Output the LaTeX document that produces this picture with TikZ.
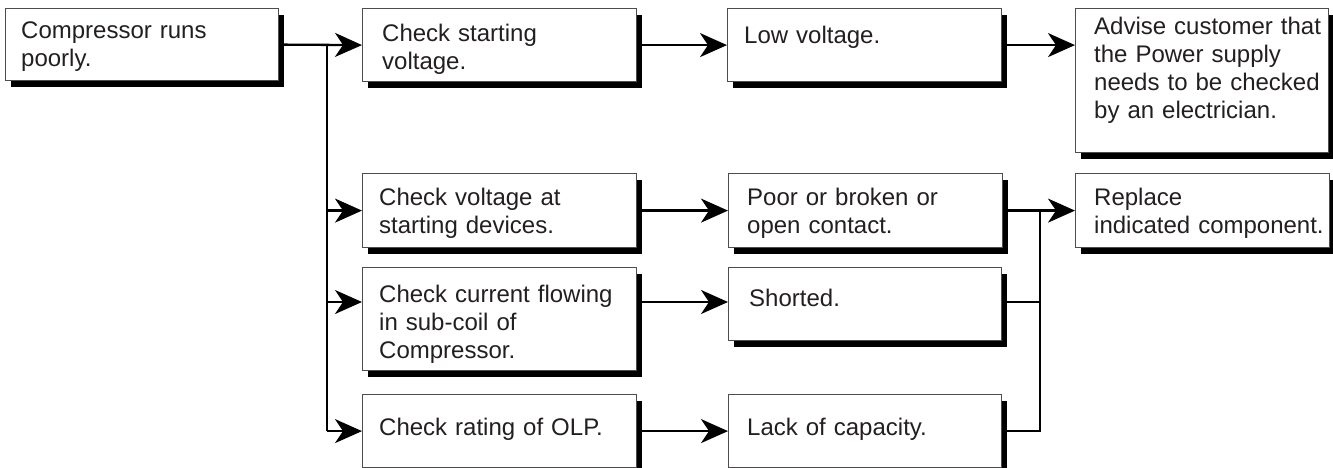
\documentclass[tikz,border=0pt]{standalone}
\usepackage{fontspec}
\setmainfont{Liberation Sans}
\usetikzlibrary{arrows.meta,shadows}
\definecolor{ink}{HTML}{231F20}
\begin{document}
\begin{tikzpicture}[x=1pt,y=-1pt,
  box/.style={draw=ink!80,line width=1.2pt,fill=white,anchor=north west,inner sep=0pt,
    drop shadow={shadow xshift=5.5pt,shadow yshift=-6pt,fill=black,opacity=1}},
  txt/.style={anchor=base west,inner sep=0pt,text width=260pt,align=left,text=ink,
    font=\fontsize{24}{28}\selectfont},
  conn/.style={line width=2.3pt,draw=black},
  arr/.style={conn,-{Stealth[length=27pt,width=24pt,inset=8pt]}}]
\useasboundingbox (0,0) rectangle (1333,468);
% boxes
\node[box,minimum width=273pt,minimum height=72pt] (b1) at (5,8) {};
\node[box,minimum width=274pt,minimum height=73pt] (b2) at (362,8) {};
\node[box,minimum width=274pt,minimum height=73pt] (b3) at (727,8) {};
\node[box,minimum width=253pt,minimum height=144pt] (b4) at (1075,8) {};
\node[box,minimum width=274pt,minimum height=74pt] (c1) at (362,173) {};
\node[box,minimum width=274pt,minimum height=74pt] (c2) at (728,173) {};
\node[box,minimum width=254pt,minimum height=74pt] (c3) at (1075,173) {};
\node[box,minimum width=274pt,minimum height=103pt] (d1) at (362,267) {};
\node[box,minimum width=273pt,minimum height=73pt] (d2) at (728,267) {};
\node[box,minimum width=274pt,minimum height=73pt] (e1) at (362,394) {};
\node[box,minimum width=273pt,minimum height=73pt] (e2) at (728,394) {};
% texts
\node[txt] (tb1) at (21,39) {Compressor runs\\poorly.};
\node[txt] (tb2) at (382,42) {Check starting\\voltage.};
\node[txt] (tb3) at (744,44) {Low voltage.};
\node[txt] (tb4) at (1094,35) {Advise customer that\\the Power supply\\needs to be checked\\by an electrician.};
\node[txt] (tc1) at (379,205) {Check voltage at\\starting devices.};
\node[txt] (tc2) at (747,205) {Poor or broken or\\open contact.};
\node[txt] (tc3) at (1094,205) {Replace\\indicated component.};
\node[txt] (td1) at (379,302) {Check current flowing\\in sub-coil of\\Compressor.};
\node[txt] (td2) at (749,306) {Shorted.};
\node[txt] (te1) at (379,435) {Check rating of OLP.};
\node[txt] (te2) at (747,435) {Lack of capacity.};
% connectors
\coordinate (tr) at (327,0);
\coordinate (ur) at (1040,0);
\coordinate (yd) at (0,302);
\draw[arr] (b1.east) -- (b2.west);
\draw[conn] (tr |- b2.west) -- (tr |- e1.west);
\draw[arr] (tr |- e1.west) -- (e1.west);
\draw[arr] (tr |- c1.west) -- (c1.west);
\draw[arr] (tr |- yd) -- (d1.west |- yd);
\draw[arr] (b2.east) -- (b3.west);
\draw[arr] (b3.east) -- (b3.east -| b4.west);
\draw[arr] (c1.east) -- (c2.west);
\draw[arr] (d1.east |- yd) -- (d2.west |- yd);
\draw[arr] (e1.east) -- (e2.west);
\draw[arr] (c2.east) -- (c3.west);
\draw[conn] (d2.east |- yd) -- (ur |- yd);
\draw[conn] (e2.east) -| (ur |- c2.east);
\end{tikzpicture}
\end{document}
